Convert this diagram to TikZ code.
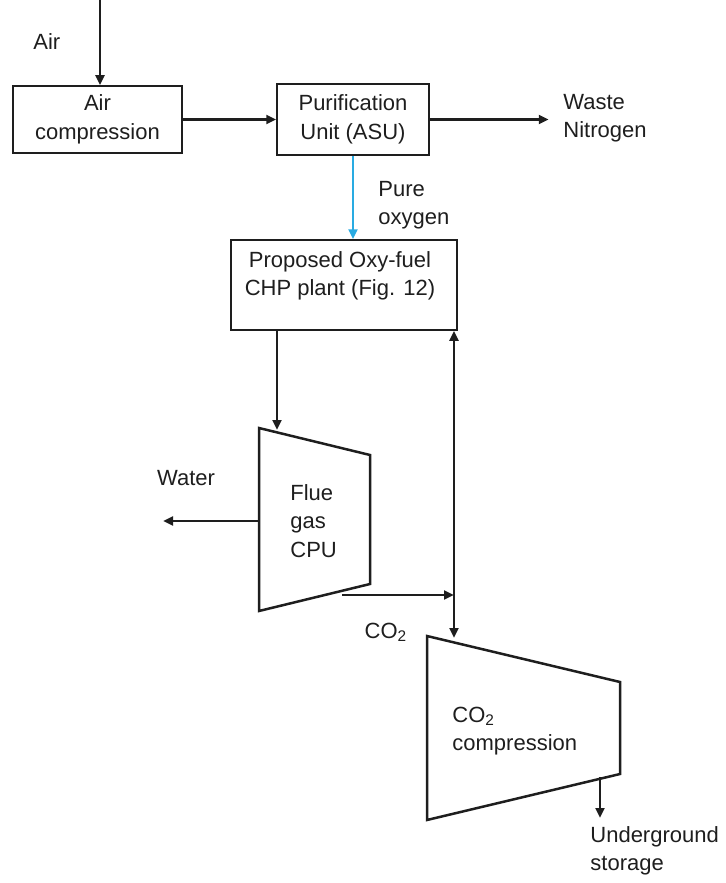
\documentclass[tikz,border=0pt]{standalone}
\usepackage{fontspec}
\setmainfont{Liberation Sans}
\usepackage{xcolor}
\usepackage{tikz}
\usetikzlibrary{arrows.meta, positioning, calc}
\definecolor{ink}{HTML}{1E1E1E}
\definecolor{oxyblue}{HTML}{29ABE2}

\begin{document}
\begin{tikzpicture}[
  x=0.5pt, y=-0.5pt,
  every node/.style={font=\fontsize{11}{14.2}\selectfont, text=ink},
  blk/.style={
    rectangle, draw=ink, line width=0.75pt,
    align=center, inner sep=2pt
  },
  unit/.style={draw=ink, line width=1.25pt, line join=miter},
  lbl/.style={align=left, inner sep=0pt},
  arr/.style={-{Triangle[length=5pt, width=4.4pt]}, draw=ink, line width=1.25pt},
  oxy/.style={draw=oxyblue, -{Triangle[length=5pt, width=4.4pt, fill=oxyblue]}}
]
\useasboundingbox (0,0) rectangle (726,883);

\node[blk, minimum width=84.5pt, minimum height=33.5pt] (aircomp) at (97.5,119.5) {Air\\compression};
\node[blk, minimum width=76pt, minimum height=35.5pt]   (asu)     at (353,119.5)  {Purification\\Unit (ASU)};
\node[blk, minimum width=113pt, minimum height=45pt]    (chp)     at (344,285)    {};
\node[lbl, align=center] (chptxt) at (340,276) {Proposed Oxy-fuel\\CHP plant (Fig. 12)};

\draw[unit] (259,428) coordinate (cpunw) -- (370,455) coordinate (cpune)
  -- (370,584) coordinate (cpuse) -- (259,611) coordinate (cpusw) -- cycle;
\node[lbl] (cputxt) at (290,521) [anchor=west] {Flue\\gas\\CPU};

\draw[unit] (427,636) coordinate (compnw) -- (620,682) coordinate (compne)
  -- (620,774) coordinate (compse) -- (427,820) coordinate (compsw) -- cycle;
\node[lbl, anchor=west] (comptxt) at (452,731) {CO\textsubscript{2}\\compression};

\node[lbl, anchor=west] (airlbl)   at (33,42)   {Air};
\node[lbl, anchor=west] (wastelbl) at (563,118) {Waste\\Nitrogen};
\node[lbl, anchor=west] (purelbl)  at (378,205) {Pure\\oxygen};
\node[lbl] (waterlbl) at (186,478) {Water};
\node[lbl] (co2lbl)   at (386,632) {CO\textsubscript{2}};
\node[lbl, anchor=west] (storelbl) at (590,851) {Underground\\storage};

\coordinate (airin)  at (100,0);
\coordinate (cpuin)  at (277,430);
\coordinate (water)  at (163,521);
\coordinate (cpuout) at (342,595);
\coordinate (jn)     at (454,595);
\coordinate (compin) at (454,638);
\coordinate (storeout) at (600,777);
\coordinate (storein)  at (600,818);

\draw[arr] (airin) -- (airin |- aircomp.north);
\draw[arr] (aircomp.east) -- (asu.west);
\draw[arr] (asu.east) -- ++(119,0);
\draw[arr, oxy] (asu.south) -- (asu.south |- chp.north);
\draw[arr] (chp.south -| cpuin) -- (cpuin);
\draw[arr] (cpunw |- water) -- (water);
\draw[arr] (cpuout) -- (jn);
\draw[arr] (jn) -- (jn |- chp.south);
\draw[arr] (jn) -- (compin);
\draw[arr] (storeout) -- (storein);
\end{tikzpicture}
\end{document}
